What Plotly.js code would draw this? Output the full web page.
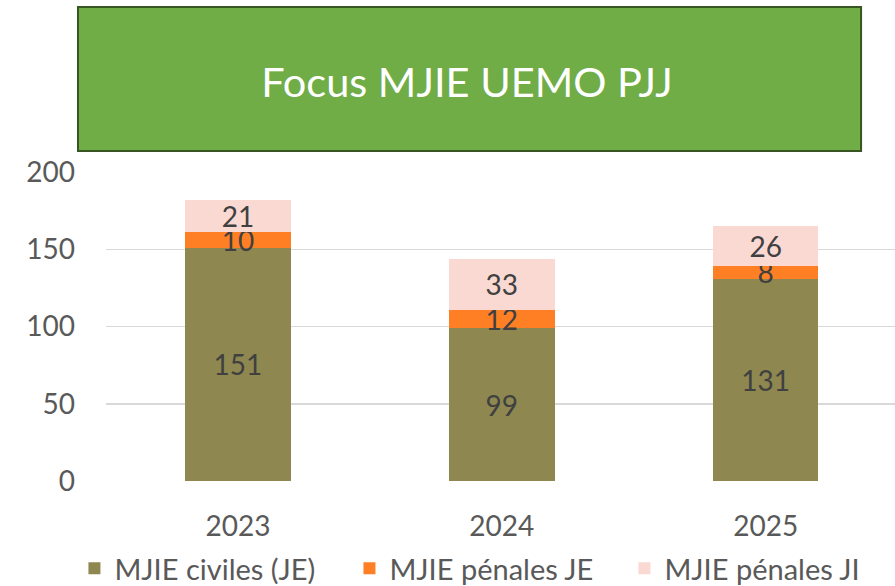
<!DOCTYPE html>
<html>
<head>
<meta charset="utf-8">
<script src="https://cdn.plot.ly/plotly-3.0.1.min.js"></script>
<style>html,body{margin:0;padding:0;background:#fff;}#chart{width:895px;height:586px;}</style>
</head>
<body>
<div id="chart"></div>
<script>
var years = ['2023', '2024', '2025'];
var civilesJE = [151, 99, 131];
var penalesJE = [10, 12, 8];
var penalesJI = [21, 33, 26];
var seriesNames = ['MJIE civiles (JE)', 'MJIE pénales JE', 'MJIE pénales JI'];
var titleText = 'Focus MJIE UEMO PJJ';

var FONT = 'Lato, "Open Sans", sans-serif';
function mk(name, vals, color) {
  return {
    type: 'bar', name: name, x: years, y: vals,
    marker: {color: color},
    text: vals.map(String), textposition: 'inside', insidetextanchor: 'middle',
    constraintext: 'none', textangle: 0, cliponaxis: false,
    textfont: {family: FONT, size: 28, color: '#404040'},
    hoverinfo: 'skip'
  };
}
var data = [
  mk(seriesNames[0], civilesJE, '#8E8850'),
  mk(seriesNames[1], penalesJE, '#FF7F24'),
  mk(seriesNames[2], penalesJI, '#FAD9D3')
];
var layout = {
  width: 895, height: 586,
  margin: {l: 106, r: 0, t: 172, b: 105, autoexpand: false},
  paper_bgcolor: '#ffffff', plot_bgcolor: '#ffffff',
  barmode: 'stack', bargap: 0.6,
  showlegend: true,
  font: {family: FONT, color: '#595959'},
  title: {
    text: titleText, xref: 'container', yref: 'container',
    x: 0.5218, y: 0.86, xanchor: 'center', yanchor: 'middle',
    font: {family: FONT, size: 41.5, color: '#ffffff'}
  },
  xaxis: {
    type: 'category', range: [-0.5, 2.49], showgrid: false, zeroline: false,
    showline: false, ticks: '', ticklabelstandoff: 26,
    tickfont: {family: FONT, size: 28, color: '#595959'}
  },
  yaxis: {
    range: [0, 200], tickvals: [0, 50, 100, 150, 200], showgrid: true,
    gridcolor: '#D9D9D9', gridwidth: 1.5, zeroline: false, showline: false,
    ticks: '', ticklabelstandoff: 30,
    tickfont: {family: FONT, size: 28, color: '#595959'}
  },
  legend: {
    orientation: 'h', x: -0.04, xanchor: 'left', y: -0.283, yanchor: 'middle',
    traceorder: 'normal', entrywidth: 230,
    font: {family: FONT, size: 29, color: '#595959'}
  },
  shapes: [{
    type: 'rect', xref: 'paper', yref: 'paper', layer: 'above',
    x0: -0.0355, x1: 0.957, y0: 1.068, y1: 1.534,
    fillcolor: '#70AD47', line: {color: '#375623', width: 2}
  }]
};
Plotly.newPlot('chart', data, layout, {staticPlot: true, displayModeBar: false});
</script>
</body>
</html>
